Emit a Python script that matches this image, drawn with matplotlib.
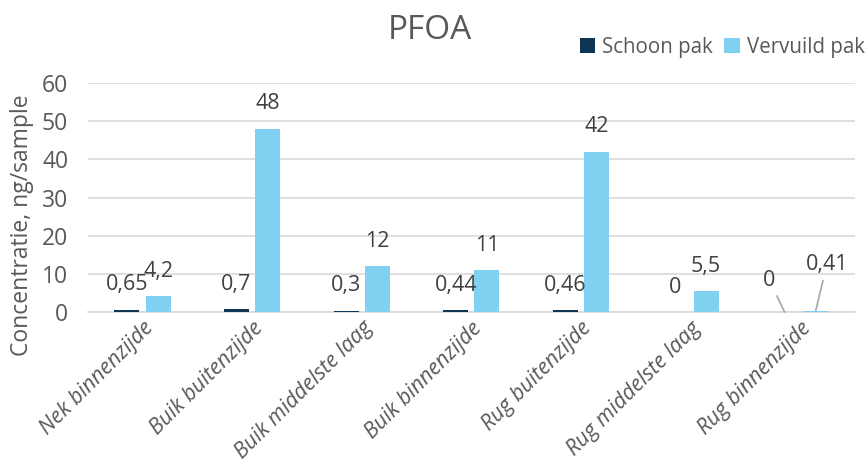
import numpy as np
import matplotlib
matplotlib.use("Agg")
import matplotlib.pyplot as plt

plt.rcParams['font.family'] = ['Open Sans', 'DejaVu Sans']

categories = ['Nek binnenzijde', 'Buik buitenzijde', 'Buik middelste laag',
              'Buik binnenzijde', 'Rug buitenzijde', 'Rug middelste laag',
              'Rug binnenzijde']
schoon = [0.65, 0.7, 0.3, 0.44, 0.46, 0, 0]
vervuild = [4.2, 48, 12, 11, 42, 5.5, 0.41]
schoon_labels = ['0,65', '0,7', '0,3', '0,44', '0,46', '0', '0']
vervuild_labels = ['4,2', '48', '12', '11', '42', '5,5', '0,41']

DARK = '#0E3553'
LIGHT = '#80D0F2'
GRID = '#D9D9D9'
TXT = '#595959'
FS = 16.5
LFS = 15.5

fig = plt.figure(figsize=(8.68, 4.75), dpi=100)
ax = fig.add_axes([0.101, 0.343, 0.884, 0.482])

x = np.arange(len(categories))
w = 0.228
off = 0.142
b1 = ax.bar(x - off, schoon, w, color=DARK, label='Schoon pak', zorder=3)
b2 = ax.bar(x + off, vervuild, w, color=LIGHT, label='Vervuild pak', zorder=3)

ax.set_xlim(-0.5, len(categories) - 0.5)
ax.set_ylim(0, 60)
ax.set_yticks(range(0, 61, 10))
ax.yaxis.grid(True, color=GRID, linewidth=1.2, zorder=0)
ax.set_axisbelow(True)
for s in ['top', 'right', 'left']:
    ax.spines[s].set_visible(False)
ax.spines['bottom'].set_color(GRID)
ax.spines['bottom'].set_linewidth(1.2)
ax.tick_params(axis='both', length=0, labelsize=FS, colors=TXT)
ax.tick_params(axis='y', pad=14)
ax.tick_params(axis='x', pad=4, labelsize=15.5)
ax.set_xticks(x)
ax.set_xticklabels(categories, rotation=45, ha='right', va='top',
                   rotation_mode='anchor', style='italic')

# data labels (last group has leader lines)
n = len(categories)
for i in range(n):
    if i < n - 1:
        ax.annotate(schoon_labels[i], (x[i] - off, schoon[i]), xytext=(0, 18),
                    textcoords='offset points', ha='center', va='center',
                    fontsize=LFS, color='#404040')
        ax.annotate(vervuild_labels[i], (x[i] + off, vervuild[i]), xytext=(0, 18),
                    textcoords='offset points', ha='center', va='center',
                    fontsize=LFS, color='#404040')
    else:
        lp = dict(arrowstyle='-', color='#A6A6A6', lw=1.2, shrinkA=2, shrinkB=0)
        ax.annotate(schoon_labels[i], (x[i] - off, schoon[i]), xytext=(-11, 23),
                    textcoords='offset points', ha='center', va='center',
                    fontsize=LFS, color='#404040', arrowprops=lp)
        ax.annotate(vervuild_labels[i], (x[i] + off, vervuild[i]), xytext=(8, 33),
                    textcoords='offset points', ha='center', va='center',
                    fontsize=LFS, color='#404040', arrowprops=lp)

fig.text(0.495, 0.935, 'PFOA', ha='center', va='center', fontsize=24, color=TXT)
fig.text(0.025, 0.525, 'Concentratie, ng/sample', rotation=90, ha='center',
         va='center', fontsize=FS, color=TXT)

ax.legend(loc='center left', bbox_to_anchor=(0.668, 0.90), bbox_transform=fig.transFigure,
          ncol=2, frameon=False, fontsize=14.8, handlelength=0.75, handleheight=0.75,
          handletextpad=0.35, columnspacing=0.55, labelcolor=TXT, borderaxespad=0,
          borderpad=0)

fig.savefig('out.png', dpi=100)
